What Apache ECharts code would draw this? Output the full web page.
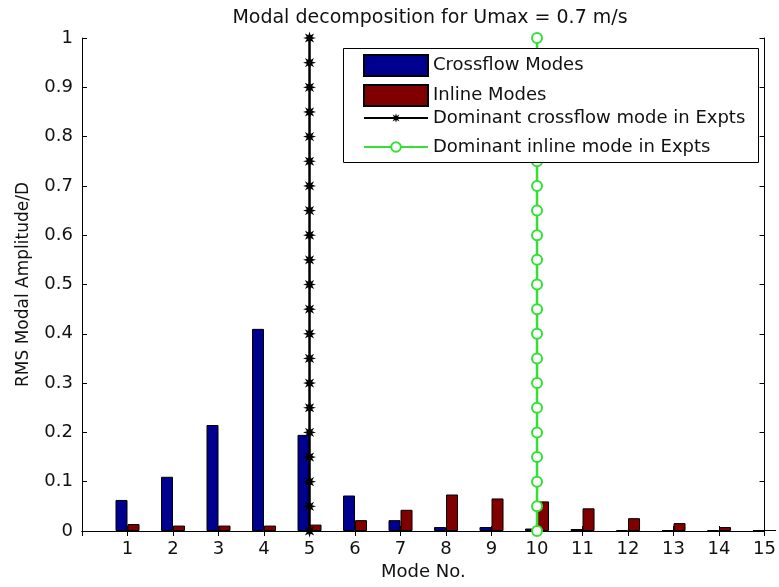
<!DOCTYPE html>
<html>
<head>
<meta charset="utf-8">
<script src="https://cdn.jsdelivr.net/npm/echarts@6/dist/echarts.min.js"></script>
<style>
  html, body { margin: 0; padding: 0; background: #fff; }
  #chart { width: 779px; height: 587px; }
</style>
</head>
<body>
<div id="chart"></div>
<script>
// --- data ---
const modes = ['1','2','3','4','5','6','7','8','9','10','11','12','13','14','15'];
const crossflow = [0.063, 0.110, 0.215, 0.410, 0.195, 0.072, 0.022, 0.008, 0.008, 0.005, 0.004, 0.002, 0.002, 0.002, 0.002];
const inline    = [0.014, 0.011, 0.011, 0.011, 0.013, 0.022, 0.043, 0.074, 0.066, 0.060, 0.046, 0.026, 0.016, 0.008, 0.002];
const crossflowExptMode = '5';
const inlineExptMode = '10';
const markerLevels = [0, 0.05, 0.1, 0.15, 0.2, 0.25, 0.3, 0.35, 0.4, 0.45, 0.5,
                      0.55, 0.6, 0.65, 0.7, 0.75, 0.8, 0.85, 0.9, 0.95, 1];

// axis starts at 0 (no label), so prepend an empty slot
const cats = ['0'].concat(modes);
const pad = arr => [null].concat(arr);

const FONT = 'DejaVu Sans, sans-serif';
// fat 8-point star, stands in for matlab's '*' marker
const STAR = 'path://M10,0 L4.16,1.72 L7.07,7.07 L1.72,4.16 L0,10 L-1.72,4.16 L-7.07,7.07 L-4.16,1.72 L-10,0 L-4.16,-1.72 L-7.07,-7.07 L-1.72,-4.16 L0,-10 L1.72,-4.16 L7.07,-7.07 L4.16,-1.72 Z';

const el = document.getElementById('chart');
const inst = echarts.init(el, null, { renderer: 'canvas' });

const tickStyle = { show: true, inside: true, length: 5, lineStyle: { color: '#000' } };

inst.setOption({
  animation: false,
  backgroundColor: '#fff',
  textStyle: { fontFamily: FONT },
  title: {
    text: 'Modal decomposition for Umax = 0.7 m/s',
    left: 425, top: 4, textAlign: 'center',
    textStyle: { fontFamily: FONT, fontSize: 19, fontWeight: 'normal', color: '#111' }
  },
  grid: { left: 82, right: 11, top: 38, bottom: 56 },
  legend: [
    {
      data: ['Crossflow Modes', 'Inline Modes'],
      orient: 'vertical', left: 363, top: 54, icon: 'rect',
      itemWidth: 64, itemHeight: 21, itemGap: 7, padding: 0, z: 101,
      textStyle: { fontFamily: FONT, fontSize: 18, color: '#111' }
    },
    {
      data: ['Dominant crossflow mode in Expts', 'Dominant inline mode in Expts'],
      orient: 'vertical', left: 363, top: 109,
      itemWidth: 64, itemHeight: 12, itemGap: 11, padding: 0, z: 101,
      textStyle: { fontFamily: FONT, fontSize: 18, color: '#111' }
    }
  ],
  graphic: [{
    type: 'rect', z: 100,
    shape: { x: 343.5, y: 48.5, width: 415, height: 114 },
    style: { fill: '#fff', stroke: '#000', lineWidth: 1 }
  }],
  xAxis: [
    {
      type: 'category', data: cats, boundaryGap: false,
      name: 'Mode No.', nameLocation: 'middle', nameGap: 32,
      nameTextStyle: { fontFamily: FONT, fontSize: 18, color: '#111' },
      axisLine: { lineStyle: { color: '#000' } },
      axisTick: Object.assign({ interval: 0 }, tickStyle),
      axisLabel: {
        interval: 0, margin: 9, fontSize: 18, color: '#111', fontFamily: FONT,
        formatter: v => (v === '0' ? '' : v)
      },
      splitLine: { show: false }
    },
    {
      type: 'category', data: cats, boundaryGap: false, position: 'top',
      axisLine: { lineStyle: { color: '#000' } },
      axisTick: Object.assign({ interval: 0 }, tickStyle),
      axisLabel: { show: false },
      splitLine: { show: false }
    }
  ],
  yAxis: [
    {
      type: 'value', min: 0, max: 1, interval: 0.1,
      name: 'RMS Modal Amplitude/D', nameLocation: 'middle', nameGap: 50,
      nameTextStyle: { fontFamily: FONT, fontSize: 17, color: '#111' },
      axisLine: { show: true, lineStyle: { color: '#000' } },
      axisTick: tickStyle,
      axisLabel: {
        margin: 9, fontSize: 18, color: '#111', fontFamily: FONT,
        formatter: v => String(Math.round(v * 10) / 10)
      },
      splitLine: { show: false }
    },
    {
      type: 'value', min: 0, max: 1, interval: 0.1, position: 'right',
      axisLine: { show: true, lineStyle: { color: '#000' } },
      axisTick: tickStyle,
      axisLabel: { show: false },
      splitLine: { show: false }
    }
  ],
  series: [
    {
      name: 'Crossflow Modes', type: 'bar', data: pad(crossflow),
      barWidth: 12, barGap: '0%', clip: true,
      itemStyle: { color: '#00008f', borderColor: '#000', borderWidth: 1 }
    },
    {
      name: 'Inline Modes', type: 'bar', data: pad(inline),
      barWidth: 12, barGap: '0%', clip: true,
      itemStyle: { color: '#800000', borderColor: '#000', borderWidth: 1 }
    },
    {
      name: 'Dominant crossflow mode in Expts', type: 'line', clip: false, z: 5,
      data: markerLevels.map(v => [crossflowExptMode, v]),
      symbol: STAR, symbolSize: 13,
      lineStyle: { color: '#000', width: 2.5 },
      itemStyle: { color: '#000' }
    },
    {
      name: 'Dominant inline mode in Expts', type: 'line', clip: false, z: 5,
      data: markerLevels.map(v => [inlineExptMode, v]),
      symbol: 'emptyCircle', symbolSize: 10,
      lineStyle: { color: '#33e033', width: 2.5 },
      itemStyle: { color: '#33e033', borderWidth: 2 }
    }
  ]
});
</script>
</body>
</html>
